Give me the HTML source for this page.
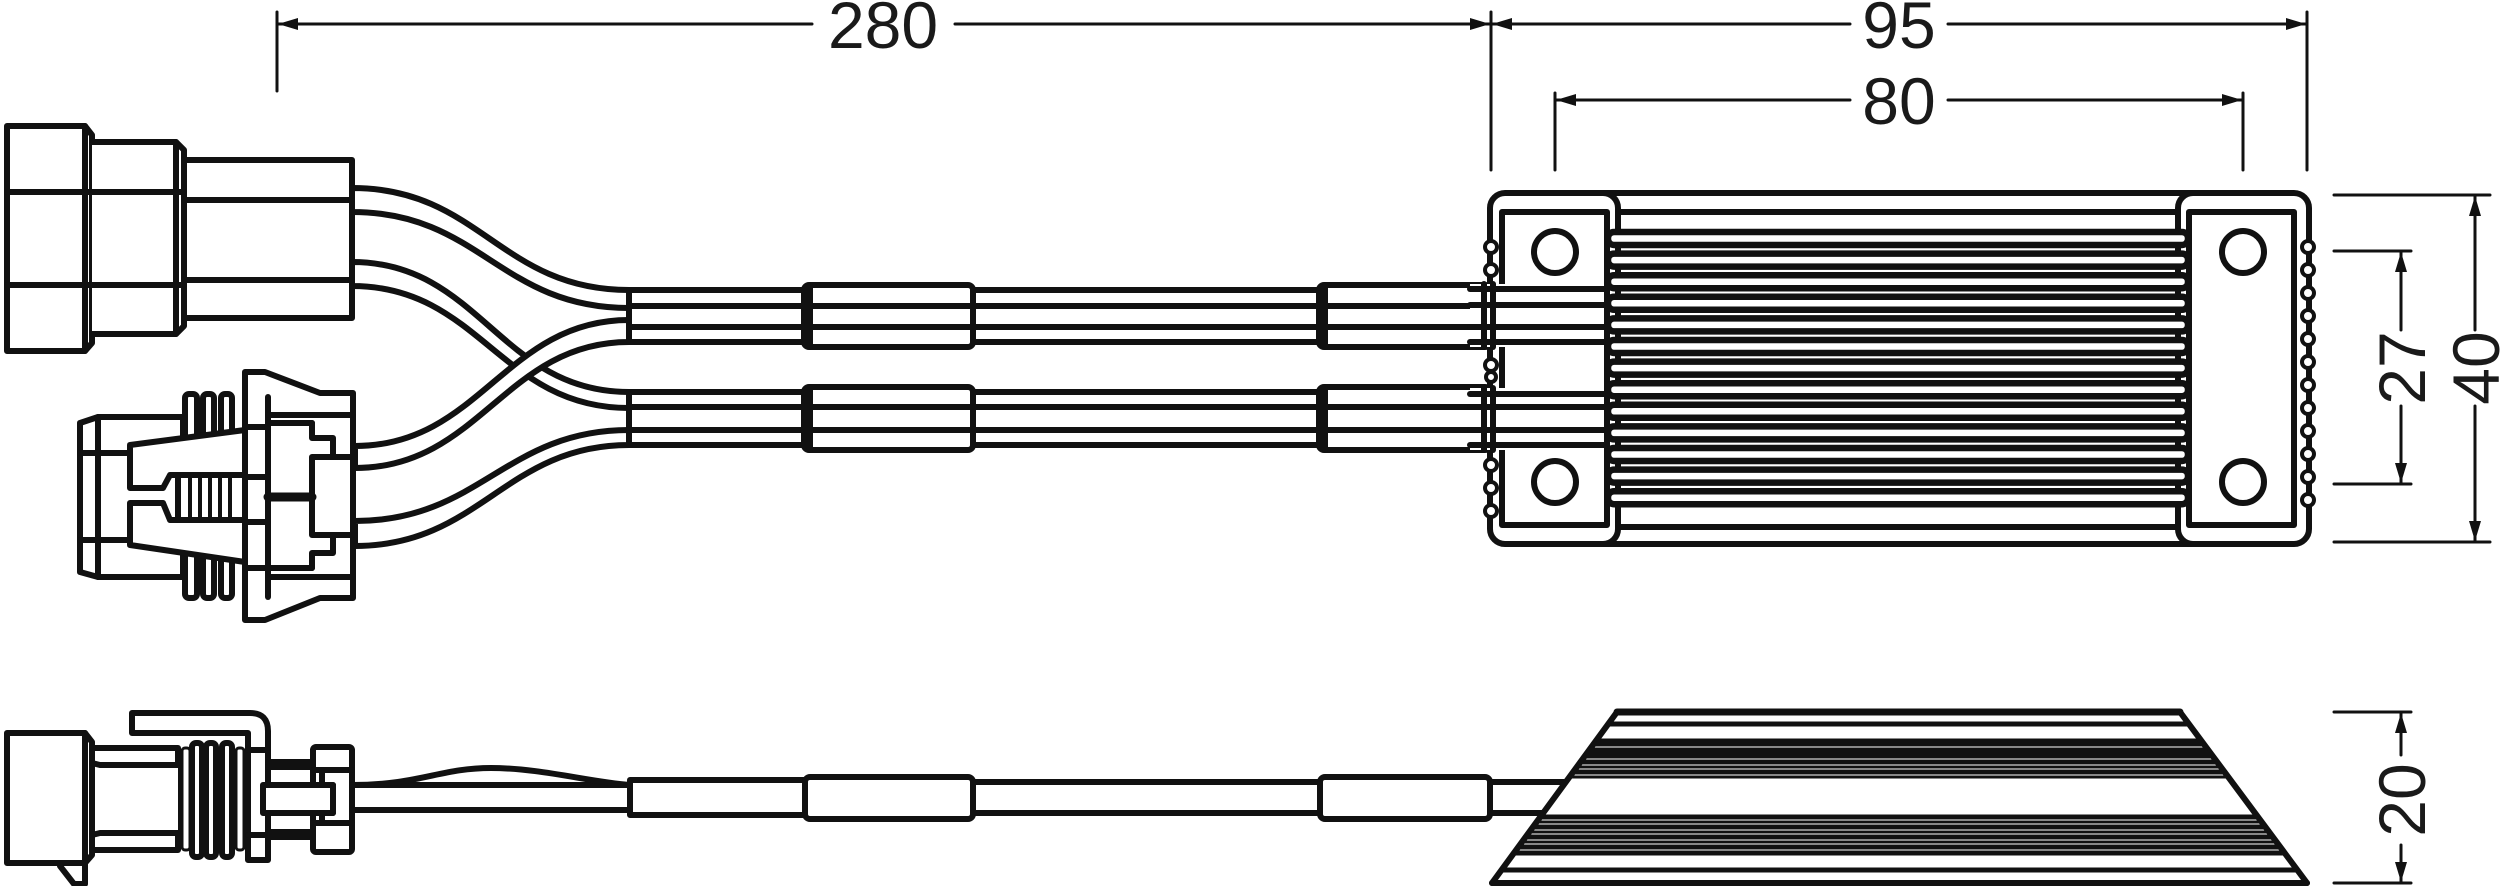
<!DOCTYPE html>
<html><head><meta charset="utf-8"><style>
html,body{margin:0;padding:0;background:#fff;}
svg{display:block;}
text{font-family:"Liberation Sans",sans-serif;font-size:66px;fill:#1a1a1a;}
</style></head><body>
<svg width="2500" height="886" viewBox="0 0 2500 886" xmlns="http://www.w3.org/2000/svg">
<g fill="none" stroke="#111" stroke-width="6" stroke-linejoin="round" stroke-linecap="round">

<!-- ===== TOP DIMENSIONS ===== -->
<g stroke-width="3">
<line x1="277" y1="12" x2="277" y2="91"/>
<line x1="1491" y1="12" x2="1491" y2="170"/>
<line x1="2307" y1="12" x2="2307" y2="170"/>
<line x1="1555" y1="93" x2="1555" y2="170"/>
<line x1="2243" y1="93" x2="2243" y2="170"/>
<line x1="277" y1="24" x2="812" y2="24"/>
<line x1="955" y1="24" x2="1491" y2="24"/>
<line x1="1491" y1="24" x2="1850" y2="24"/>
<line x1="1948" y1="24" x2="2307" y2="24"/>
<line x1="1555" y1="100" x2="1850" y2="100"/>
<line x1="1948" y1="100" x2="2243" y2="100"/>
</g>
<g fill="#111" stroke="none">
<polygon points="278,24 298,18 298,30"/>
<polygon points="1490,24 1470,18 1470,30"/>
<polygon points="1492,24 1512,18 1512,30"/>
<polygon points="2306,24 2286,18 2286,30"/>
<polygon points="1556,100 1576,94 1576,106"/>
<polygon points="2242,100 2222,94 2222,106"/>
</g>

<!-- ===== UPPER CONNECTOR (top view) ===== -->
<path d="M7,126 H85 L92,135 V343 L85,351 H7 Z" fill="#fff"/>
<line x1="85" y1="126" x2="85" y2="351"/>
<path d="M92,142 H176 L184,150 V326 L176,334 H92" fill="#fff"/>
<line x1="176" y1="142" x2="176" y2="334"/>
<rect x="184" y="160" width="168" height="158" fill="#fff"/>
<line x1="7" y1="192" x2="184" y2="192"/>
<line x1="7" y1="285" x2="184" y2="285"/>
<line x1="184" y1="200" x2="352" y2="200"/>
<line x1="184" y1="280" x2="352" y2="280"/>

<!-- ===== WIRES ===== -->
<path d="M352,188 C480,188 500,290 629,290 L629,308 C500,308 480,212 352,212 Z" fill="#fff"/>
<path d="M352,262 C480,262 500,392 629,392 L629,408 C500,408 480,286 352,286 Z" fill="#fff"/>
<path d="M355,521 C480,521 505,430 629,430 L629,445 C505,445 480,546 355,546 Z" fill="#fff"/>
<path d="M355,446 C480,446 505,320 629,320 L629,342 C505,342 480,468 355,468 Z" fill="#fff"/>

<!-- ===== LOWER CONNECTOR (top view) ===== -->
<path d="M80,423 L98,417 H183 V577 H98 L80,572 Z" fill="#fff"/>
<line x1="98" y1="417" x2="98" y2="577"/>
<line x1="80" y1="453" x2="130" y2="453"/>
<line x1="80" y1="540" x2="130" y2="540"/>
<g fill="#fff">
<rect x="185" y="394" width="12" height="45" rx="4"/>
<rect x="203" y="394" width="11" height="45" rx="4"/>
<rect x="221" y="394" width="11" height="45" rx="4"/>
<rect x="185" y="553" width="12" height="45" rx="4"/>
<rect x="203" y="553" width="11" height="45" rx="4"/>
<rect x="221" y="553" width="11" height="45" rx="4"/>
<path d="M130,445 L245,430 V475 H170 L163,488 H130 Z"/>
<path d="M130,545 L245,562 V520 H170 L163,503 H130 Z"/>
<rect x="178" y="475" width="67" height="45"/>
</g>
<g stroke-width="4">
<line x1="190" y1="475" x2="190" y2="520"/><line x1="200" y1="475" x2="200" y2="520"/>
<line x1="210" y1="475" x2="210" y2="520"/><line x1="220" y1="475" x2="220" y2="520"/>
<line x1="230" y1="475" x2="230" y2="520"/>
</g>
<path d="M245,372 H265 L320,393 H353 V598 H320 L265,620 H245 Z" fill="#fff"/>
<line x1="268" y1="397" x2="268" y2="597"/>
<line x1="245" y1="427" x2="268" y2="427"/>
<line x1="245" y1="477" x2="268" y2="477"/>
<line x1="245" y1="522" x2="268" y2="522"/>
<line x1="245" y1="568" x2="268" y2="568"/>
<line x1="268" y1="415" x2="353" y2="415"/>
<line x1="268" y1="423" x2="312" y2="423"/>
<path d="M312,423 V438 H333 V457"/>
<rect x="312" y="457" width="41" height="78" fill="#fff"/>
<path d="M312,568 V553 H333 V535"/>
<line x1="268" y1="568" x2="312" y2="568"/>
<line x1="268" y1="577" x2="353" y2="577"/>
<line x1="268" y1="497" x2="312" y2="497" stroke-width="9"/>

<!-- ===== CABLES (top view) ===== -->
<g fill="#fff">
<rect x="629" y="290" width="180" height="52"/>
<rect x="629" y="392" width="180" height="53"/>
<rect x="970" y="290" width="355" height="52"/>
<rect x="970" y="392" width="355" height="53"/>
<rect x="804" y="285" width="169" height="62" rx="5"/>
<rect x="804" y="387" width="169" height="63" rx="5"/>
<rect x="1319" y="285" width="171" height="62" rx="5"/>
<rect x="1319" y="387" width="171" height="63" rx="5"/>
</g>
<g>
<line x1="629" y1="306" x2="1490" y2="306"/><line x1="629" y1="327" x2="1490" y2="327"/>
<line x1="629" y1="407" x2="1490" y2="407"/><line x1="629" y1="430" x2="1490" y2="430"/>
</g>
<line x1="810" y1="285" x2="810" y2="347"/><line x1="1325" y1="285" x2="1325" y2="347"/>
<line x1="810" y1="387" x2="810" y2="450"/><line x1="1325" y1="387" x2="1325" y2="450"/>

<!-- ===== BOX (top view) ===== -->
<line x1="1600" y1="193" x2="2200" y2="193"/>
<line x1="1600" y1="544" x2="2200" y2="544"/>
<line x1="1612" y1="212" x2="2184" y2="212"/>
<line x1="1612" y1="527" x2="2184" y2="527"/>
<rect x="1490" y="193" width="128" height="351" rx="15" fill="#fff"/>
<rect x="2178" y="193" width="131" height="351" rx="15" fill="#fff"/>
<rect x="1502" y="212" width="105" height="313" fill="#fff"/>
<rect x="2189" y="212" width="105" height="313" fill="#fff"/>
<circle cx="1555" cy="252" r="21"/>
<circle cx="1555" cy="482" r="21"/>
<circle cx="2243" cy="252" r="21"/>
<circle cx="2243" cy="482" r="21"/>
<!-- scallops -->
<g stroke-width="4" fill="#fff">
<circle cx="1491" cy="247" r="6"/><circle cx="1491" cy="270" r="6"/>
<circle cx="1491" cy="365" r="6"/><circle cx="1491" cy="377" r="5"/>
<circle cx="1491" cy="465" r="6"/><circle cx="1491" cy="488" r="6"/><circle cx="1491" cy="511" r="6"/>
<circle cx="2308" cy="247" r="6"/><circle cx="2308" cy="270" r="6"/><circle cx="2308" cy="293" r="6"/>
<circle cx="2308" cy="316" r="6"/><circle cx="2308" cy="339" r="6"/><circle cx="2308" cy="362" r="6"/>
<circle cx="2308" cy="385" r="6"/><circle cx="2308" cy="408" r="6"/><circle cx="2308" cy="431" r="6"/>
<circle cx="2308" cy="454" r="6"/><circle cx="2308" cy="477" r="6"/><circle cx="2308" cy="500" r="6"/>
</g>
<!-- cables entering box -->
<rect x="1470" y="284" width="140" height="63" fill="#fff" stroke="none"/>
<rect x="1470" y="388" width="140" height="62" fill="#fff" stroke="none"/>
<line x1="1470" y1="289" x2="1607" y2="289"/><line x1="1470" y1="305" x2="1607" y2="305"/>
<line x1="1470" y1="327" x2="1607" y2="327"/><line x1="1470" y1="342" x2="1607" y2="342"/>
<line x1="1470" y1="394" x2="1607" y2="394"/><line x1="1470" y1="407" x2="1607" y2="407"/>
<line x1="1470" y1="430" x2="1607" y2="430"/><line x1="1470" y1="445" x2="1607" y2="445"/>
<line x1="1484" y1="284" x2="1484" y2="347"/><line x1="1493" y1="284" x2="1493" y2="347"/>
<line x1="1484" y1="388" x2="1484" y2="450"/><line x1="1493" y1="388" x2="1493" y2="450"/>
<line x1="1607" y1="284" x2="1607" y2="450"/>
<!-- fins -->
<g stroke-width="6.5" fill="#fff">
<rect x="1608" y="232" width="580" height="13" rx="6"/>
<rect x="1608" y="253.6" width="580" height="13" rx="6"/>
<rect x="1608" y="275.2" width="580" height="13" rx="6"/>
<rect x="1608" y="296.8" width="580" height="13" rx="6"/>
<rect x="1608" y="318.4" width="580" height="13" rx="6"/>
<rect x="1608" y="340" width="580" height="13" rx="6"/>
<rect x="1608" y="361.6" width="580" height="13" rx="6"/>
<rect x="1608" y="383.2" width="580" height="13" rx="6"/>
<rect x="1608" y="404.8" width="580" height="13" rx="6"/>
<rect x="1608" y="426.4" width="580" height="13" rx="6"/>
<rect x="1608" y="448" width="580" height="13" rx="6"/>
<rect x="1608" y="469.6" width="580" height="13" rx="6"/>
<rect x="1608" y="491.2" width="580" height="13" rx="6"/>
</g>

<!-- ===== RIGHT DIMENSIONS ===== -->
<g stroke-width="3">
<line x1="2334" y1="195" x2="2490" y2="195"/>
<line x1="2334" y1="542" x2="2490" y2="542"/>
<line x1="2334" y1="251" x2="2411" y2="251"/>
<line x1="2334" y1="484" x2="2411" y2="484"/>
<line x1="2475" y1="195" x2="2475" y2="330"/><line x1="2475" y1="406" x2="2475" y2="542"/>
<line x1="2401" y1="251" x2="2401" y2="330"/><line x1="2401" y1="406" x2="2401" y2="484"/>
<line x1="2334" y1="712" x2="2411" y2="712"/>
<line x1="2334" y1="883" x2="2411" y2="883"/>
<line x1="2401" y1="712" x2="2401" y2="755"/><line x1="2401" y1="845" x2="2401" y2="883"/>
</g>
<g fill="#111" stroke="none">
<polygon points="2475,196 2469,216 2481,216"/><polygon points="2475,541 2469,521 2481,521"/>
<polygon points="2401,252 2395,272 2407,272"/><polygon points="2401,483 2395,463 2407,463"/>
<polygon points="2401,713 2395,733 2407,733"/><polygon points="2401,882 2395,862 2407,862"/>
</g>

<!-- ===== SIDE VIEW CONNECTOR ===== -->
<path d="M7,733 H85 L92,742 V855 L85,863 H7 Z" fill="#fff"/>
<line x1="85" y1="733" x2="85" y2="863"/>
<path d="M60,866 L74,884 H85 V863"/>
<path d="M92,748 H178 V762 M92,850 H178 V835"/>
<path d="M92,763 L100,765 H181 V833 H100 L92,835"/>
<g fill="#fff">
<rect x="182" y="748" width="8" height="102" rx="3" stroke-width="3"/>
<rect x="192" y="743" width="10" height="114" rx="4"/>
<rect x="206" y="743" width="10" height="114" rx="4"/>
<rect x="222" y="743" width="10" height="114" rx="4"/>
<rect x="236" y="748" width="8" height="102" rx="3" stroke-width="3"/>
</g>
<path d="M132,713 H250 Q268,713 268,731 V860 H248 V733 H132 Z" fill="#fff"/>
<line x1="248" y1="750" x2="268" y2="750"/><line x1="248" y1="835" x2="268" y2="835"/>
<path d="M268,762 H313 M268,767 H313 M268,832 H313 M268,837 H313"/>
<rect x="313" y="747" width="39" height="105" rx="3" fill="#fff"/>
<path d="M313,770 H352 M313,823 H352"/>
<rect x="263" y="785" width="70" height="28" fill="#fff" stroke-width="6"/>
<path d="M333,785 V813 M322,770 V785 M322,813 V823"/>
<!-- side cable -->
<line x1="352" y1="785" x2="630" y2="785"/>
<line x1="352" y1="810" x2="630" y2="810"/>
<path d="M352,785 C420,785 440,768 491,768 C540,768 590,782 630,785"/>
<rect x="630" y="780" width="175" height="35" fill="#fff"/>
<rect x="970" y="782" width="355" height="31" fill="#fff"/>
<rect x="805" y="777" width="168" height="42" rx="5" fill="#fff"/>
<rect x="1320" y="777" width="170" height="42" rx="5" fill="#fff"/>
<rect x="1490" y="782" width="85" height="31" fill="#fff"/>

<!-- ===== TRAPEZOID (side view) ===== -->
<polygon points="1617,712 2180,712 2307,883 1492,883" fill="#fff"/>
<line x1="1617" y1="712" x2="2180" y2="712" stroke-width="7"/>
<line x1="1492" y1="883" x2="2307" y2="883" stroke-width="6"/>
<g stroke-width="5">
<line x1="1608" y1="724" x2="2189" y2="724"/>
<line x1="1597" y1="740" x2="2201" y2="740" stroke-width="3"/>
<line x1="1594" y1="744" x2="2203" y2="744"/>
<line x1="1590" y1="749" x2="2207" y2="749" stroke-width="3"/>
<line x1="1587" y1="753" x2="2210" y2="753"/>
<line x1="1584" y1="757" x2="2213" y2="757" stroke-width="3"/>
<line x1="1580" y1="762" x2="2217" y2="762"/>
<line x1="1577" y1="767" x2="2221" y2="767" stroke-width="3"/>
<line x1="1573" y1="772" x2="2225" y2="772"/>
<line x1="1569" y1="777" x2="2228" y2="777" stroke-width="3"/>
<line x1="1540" y1="817" x2="2258" y2="817"/>
<line x1="1537" y1="822" x2="2262" y2="822" stroke-width="3"/>
<line x1="1533" y1="827" x2="2265" y2="827"/>
<line x1="1529" y1="832" x2="2269" y2="832" stroke-width="3"/>
<line x1="1526" y1="837" x2="2273" y2="837"/>
<line x1="1522" y1="842" x2="2277" y2="842" stroke-width="3"/>
<line x1="1518" y1="847" x2="2280" y2="847"/>
<line x1="1514" y1="853" x2="2285" y2="853"/>
<line x1="1502" y1="870" x2="2297" y2="870"/>
</g>
</g>

<!-- ===== TEXT ===== -->
<text x="883" y="48" text-anchor="middle">280</text>
<text x="1899" y="48" text-anchor="middle">95</text>
<text x="1899" y="124" text-anchor="middle">80</text>
<text transform="translate(2401,368) rotate(-90)" x="0" y="24" text-anchor="middle">27</text>
<text transform="translate(2475,368) rotate(-90)" x="0" y="24" text-anchor="middle">40</text>
<text transform="translate(2401,800) rotate(-90)" x="0" y="24" text-anchor="middle">20</text>
</svg>
</body></html>
